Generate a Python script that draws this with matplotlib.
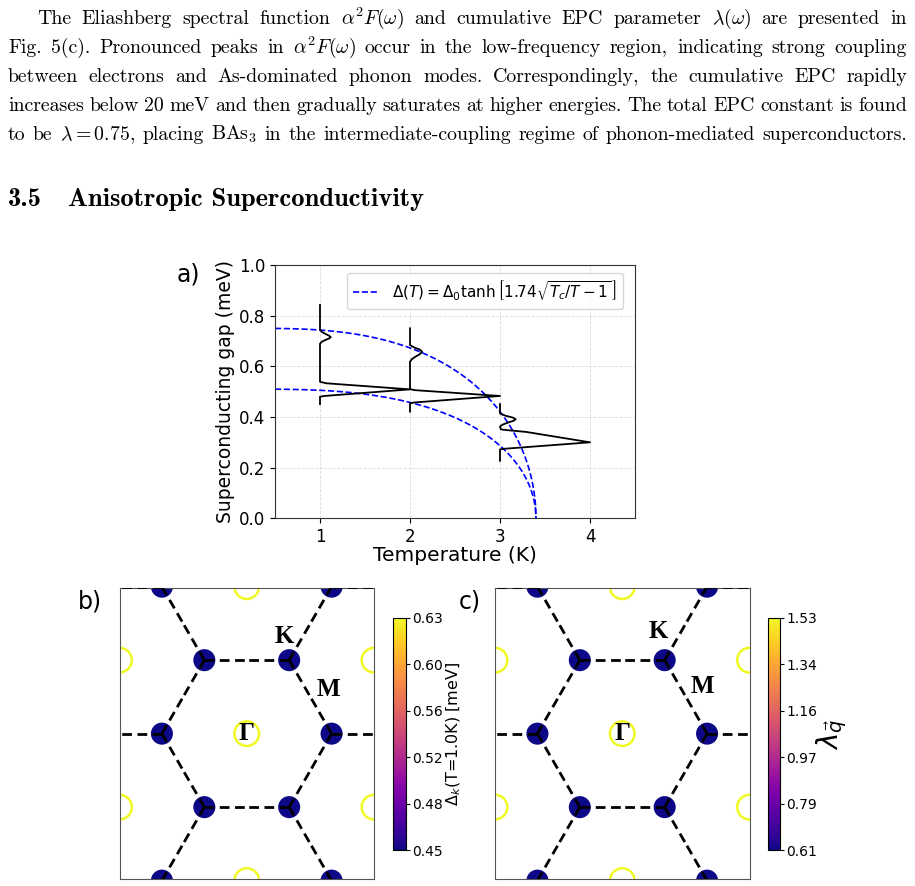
import numpy as np
import matplotlib
matplotlib.use("Agg")
import matplotlib.pyplot as plt
from matplotlib.patches import Circle
from matplotlib.colors import Normalize
from matplotlib.cm import ScalarMappable

W, H = 915, 886

# ---------------- text content ----------------
para_lines = [
    ["The", "Eliashberg", "spectral", "function", r"$\alpha^2F(\omega)$", "and", "cumulative", "EPC",
     "parameter", r"$\lambda(\omega)$", "are", "presented", "in"],
    ["Fig.", "5(c).", "Pronounced", "peaks", "in", r"$\alpha^2F(\omega)$", "occur", "in", "the",
     "low-frequency", "region,", "indicating", "strong", "coupling"],
    ["between", "electrons", "and", "As-dominated", "phonon", "modes.", "Correspondingly,", "the",
     "cumulative", "EPC", "rapidly"],
    ["increases", "below", "20", "meV", "and", "then", "gradually", "saturates", "at", "higher",
     "energies.", "The", "total", "EPC", "constant", "is", "found"],
    ["to", "be", r"$\lambda=0.75$,", "placing", r"BAs$_3$", "in", "the", "intermediate-coupling",
     "regime", "of", "phonon-mediated", "superconductors."],
]
heading_num = "3.5"
heading_text = "Anisotropic Superconductivity"

# ---------------- panel a data ----------------
temps = [1, 2, 3]
gap_T1 = [0.451, 0.480, 0.483, 0.509, 0.533, 0.539, 0.689, 0.697, 0.704, 0.710, 0.715, 0.721, 0.728, 0.736, 0.744, 0.842]
rho_T1 = [0.0, 0.0, 0.05, 1.0, 0.07, 0.0, 0.0, 0.02, 0.06, 0.10, 0.12, 0.10, 0.06, 0.02, 0.0, 0.0]
gap_T2 = [0.421, 0.454, 0.457, 0.483, 0.506, 0.510, 0.618, 0.628, 0.638, 0.648, 0.658, 0.666, 0.674, 0.684, 0.750]
rho_T2 = [0.0, 0.0, 0.04, 1.0, 0.05, 0.0, 0.0, 0.02, 0.06, 0.11, 0.134, 0.11, 0.05, 0.0, 0.0]
gap_T3 = [0.227, 0.272, 0.274, 0.300, 0.341, 0.348, 0.351, 0.362, 0.370, 0.378, 0.385, 0.391, 0.398, 0.405, 0.414, 0.451]
rho_T3 = [0.0, 0.0, 0.03, 1.0, 0.29, 0.08, 0.01, 0.0, 0.03, 0.09, 0.15, 0.174, 0.14, 0.06, 0.0, 0.0]
gap_dists = [(gap_T1, rho_T1), (gap_T2, rho_T2), (gap_T3, rho_T3)]

Tc = 3.4
delta0_values = [0.75, 0.51]
xticks_a = [1, 2, 3, 4]
yticks_a = [0.0, 0.2, 0.4, 0.6, 0.8, 1.0]

# ---------------- panels b, c data ----------------
gap_K, gap_Gamma = 0.447, 0.633
lam_K, lam_Gamma = 0.606, 1.528
cb_b_ticklabels = ["0.45", "0.48", "0.52", "0.56", "0.60", "0.63"]
cb_c_ticklabels = ["0.61", "0.79", "0.97", "1.16", "1.34", "1.53"]

# ---------------- figure ----------------
fig = plt.figure(figsize=(W / 100, H / 100), dpi=100)
renderer = fig.canvas.get_renderer()


def px(x, y):
    return x / W, 1 - y / H


def measure(words, fs, family):
    ws = []
    for w in words:
        t = fig.text(0, 0, w, fontsize=fs, family=family, math_fontfamily="cm")
        ws.append(t.get_window_extent(renderer).width)
        t.remove()
    return ws


body_family = "cmr10"
fs0 = 14.0
ws = measure(para_lines[3], fs0, body_family)
space0 = 0.333 * fs0 * 100 / 72
nat = sum(ws) + space0 * (len(ws) - 1)
fs_body = fs0 * 917.0 / nat

baselines = [24, 53, 82, 111, 140]
starts = [37, 8, 8, 8, 8]
x_right = 907
for words, base, x0 in zip(para_lines, baselines, starts):
    ws = measure(words, fs_body, body_family)
    gap = (x_right - x0 - sum(ws)) / (len(words) - 1)
    x = x0
    for w, wd in zip(words, ws):
        fig.text(*px(x, base), w, fontsize=fs_body, family=body_family, math_fontfamily="cm",
                 ha="left", va="baseline")
        x += wd + gap

# heading
hw = measure([heading_text], 17, "cmb10")[0]
fs_head = 17 * 357.0 / hw
fig.text(*px(8, 206), heading_num, fontsize=fs_head, family="cmb10", ha="left", va="baseline")
fig.text(*px(68, 206), heading_text, fontsize=fs_head, family="cmb10", ha="left", va="baseline")

# ---------------- panel a ----------------
axa = fig.add_axes([275 / W, 1 - 518.3 / H, 360 / W, 253.3 / H])
T_fit = np.linspace(0.5, Tc, 500)
for i, d0 in enumerate(delta0_values):
    dT = d0 * np.tanh(1.74 * np.sqrt(np.clip(Tc / T_fit - 1, 0, None)))
    axa.plot(T_fit, dT, "--", color="blue", lw=1.2,
             label=r"$\Delta(T) = \Delta_0\tanh\left[1.74\sqrt{T_c/T-1}\,\right]$" if i == 0 else None)
for T, (g, r) in zip(temps, gap_dists):
    axa.plot(T + np.array(r), g, color="black", lw=1.3)
axa.set_xlim(0.5, 4.5)
axa.set_ylim(0, 1.0)
axa.set_xticks(xticks_a)
axa.set_yticks(yticks_a)
axa.tick_params(labelsize=12)
axa.grid(True, linestyle="--", color="0.8", lw=0.6, alpha=0.7)
axa.set_xlabel("Temperature (K)", fontsize=14.5, labelpad=0)
axa.set_ylabel("Superconducting gap (meV)", fontsize=13.5, labelpad=3)
for s in axa.spines.values():
    s.set_color("#333333")
axa.legend(loc="upper right", fontsize=11, handlelength=1.7,
           bbox_to_anchor=(1 - 4.5 / 360, 1.0))
fig.text(*px(188, 275), "a)", fontsize=17, ha="center", va="center")

# ---------------- panels b, c ----------------
b1 = np.array([1.5, np.sqrt(3) / 2])
b2 = np.array([1.5, -np.sqrt(3) / 2])
Gs = [m * b1 + n * b2 for m in range(-3, 4) for n in range(-3, 4)]
Gs = [G for G in Gs if abs(G[0]) < 3.5 and abs(G[1]) < 3.5]
angles = np.deg2rad(np.arange(6) * 60)
hexv = np.stack([np.cos(angles), np.sin(angles)], axis=1)
Ks = []
segs = {}
for G in Gs:
    for k in range(6):
        v1 = G + hexv[k]
        v2 = G + hexv[(k + 1) % 6]
        mid = (v1 + v2) / 2
        for v in (v1, v2):
            key = (round(v[0], 3), round(v[1], 3), round(mid[0], 3), round(mid[1], 3))
            segs[key] = (v, mid)
        Ks.append(v1)
uniqK = {}
for v in Ks:
    uniqK[(round(v[0], 3), round(v[1], 3))] = v
Ks = list(uniqK.values())

cmap = plt.get_cmap("plasma")


def bz_panel(rect, kval, gval, vmin, vmax, cbrect, ticklabels, cblabel, cbfs, lpad, Klabel, Mlabel):
    ax = fig.add_axes(rect)
    norm = Normalize(vmin, vmax)
    for K in Ks:
        ax.add_patch(Circle(K, 0.13, facecolor=cmap(norm(kval)), edgecolor="none", zorder=2))
    for G in Gs:
        ax.add_patch(Circle(G, 0.145, facecolor="none", edgecolor=cmap(norm(gval)), lw=1.8, zorder=2))
    for v, mid in segs.values():
        ax.plot([v[0], mid[0]], [v[1], mid[1]], color="black", lw=2.0, ls=(0, (3.5, 2.0)), zorder=3)
    ax.set_xlim(-1.5, 1.5)
    ax.set_ylim(-1.713, 1.713)
    ax.set_xticks([])
    ax.set_yticks([])
    for s in ax.spines.values():
        s.set_color("#555555")
    tkw = dict(fontsize=18, family="Liberation Serif", fontweight="bold", ha="center", va="center", zorder=5)
    ax.text(*Klabel, "K", **tkw)
    ax.text(*Mlabel, "M", **tkw)
    ax.text(0, 0, "Γ", **tkw)
    cax = fig.add_axes(cbrect)
    cb = fig.colorbar(ScalarMappable(norm=norm, cmap=cmap), cax=cax)
    cb.set_ticks(np.linspace(vmin, vmax, 6))
    cb.set_ticklabels(ticklabels)
    cb.ax.tick_params(labelsize=10, length=3, pad=1.5)
    cb.outline.set_linewidth(0.8)
    cb.set_label(cblabel, fontsize=cbfs, labelpad=lpad)
    return ax


bz_panel([119.5 / W, 1 - 879 / H, 254.5 / W, 290.7 / H], gap_K, gap_Gamma, gap_K, gap_Gamma,
         [393 / W, 1 - 850 / H, 13 / W, 232.3 / H], cb_b_ticklabels,
         r"$\Delta_k$(T=1.0K) [meV]", 11.5, 1, (0.44, 1.15), (0.96, 0.52))
bz_panel([495 / W, 1 - 879 / H, 254.5 / W, 290.7 / H], lam_K, lam_Gamma, lam_K, lam_Gamma,
         [767.5 / W, 1 - 850 / H, 12.5 / W, 232.3 / H], cb_c_ticklabels,
         r"$\lambda_{\vec{q}}$", 20, -2, (0.42, 1.2), (0.94, 0.55))
fig.text(*px(90, 601), "b)", fontsize=17, ha="center", va="center")
fig.text(*px(470, 602), "c)", fontsize=17, ha="center", va="center")

fig.savefig("out.png", dpi=100)
